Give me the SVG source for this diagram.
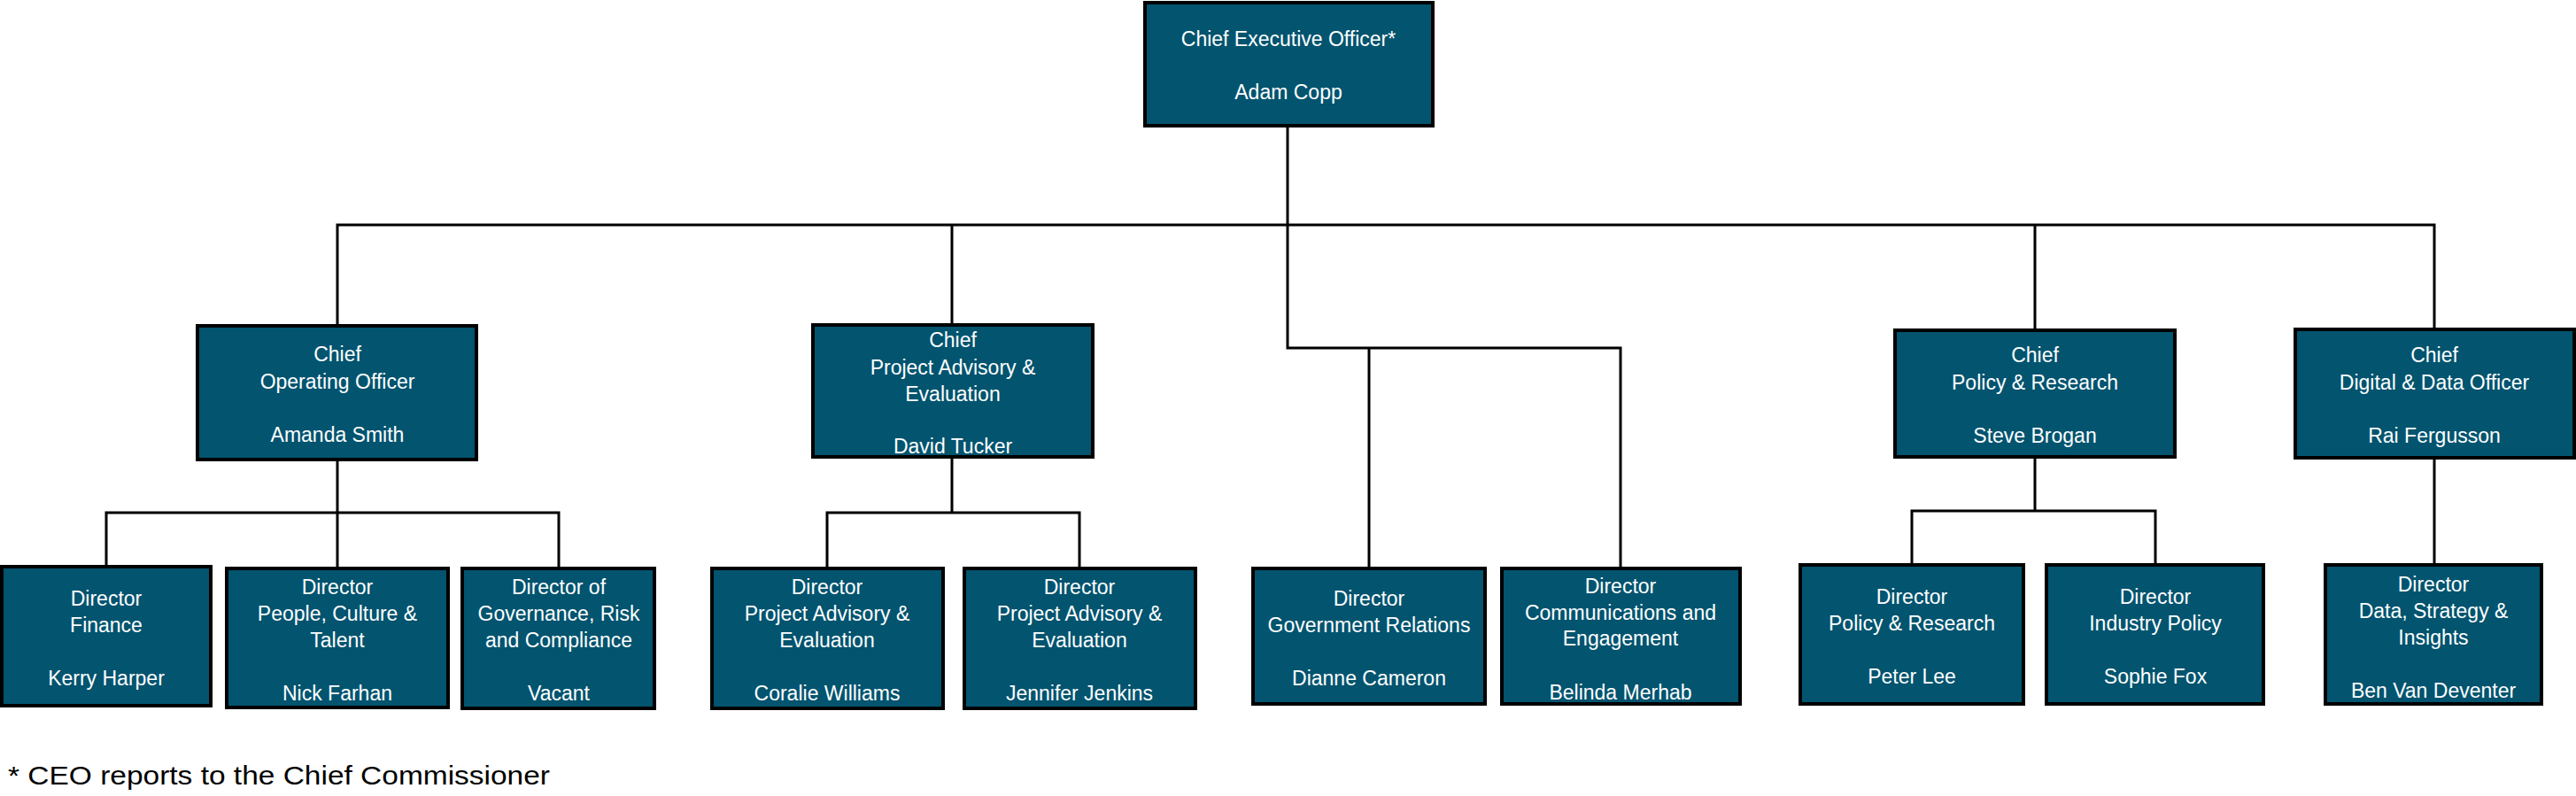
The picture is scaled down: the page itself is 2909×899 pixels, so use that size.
<svg xmlns="http://www.w3.org/2000/svg" width="2909" height="899" viewBox="0 0 2909 899">
<style>
.b{fill:#02546F;stroke:#000;stroke-width:4}
.t{fill:#fff;font-family:"Liberation Sans",Arial,sans-serif;font-size:23px;text-anchor:middle}
.c{fill:none;stroke:#000;stroke-width:3}
</style>
<rect width="2909" height="899" fill="#fff"/>
<g id="connectors" class="c">
<path d="M1454 141V254M381 368V254H2749V372M1075 254V367M2298 254V373"/>
<path d="M1454 254V393H1830V642M1546 393V642"/>
<path d="M381 519V579M120 640V579H631V642M381 579V642"/>
<path d="M1075 516V579M934 642V579H1219V642"/>
<path d="M2298 516V577M2159 638V577H2434V638"/>
<path d="M2749 517V638"/>
</g>
<g id="ceo"><rect class="b" x="1293" y="3" width="325" height="139"/><text class="t" x="1455" y="52">Chief Executive Officer*</text><text class="t" x="1455" y="112">Adam Copp</text></g>
<g id="coo"><rect class="b" x="223" y="368" width="315" height="151"/><text class="t" x="381" y="408">Chief</text><text class="t" x="381" y="439">Operating Officer</text><text class="t" x="381" y="499">Amanda Smith</text></g>
<g id="cpae"><rect class="b" x="918" y="367" width="316" height="149"/><text class="t" x="1076" y="392">Chief</text><text class="t" x="1076" y="423">Project Advisory &amp;</text><text class="t" x="1076" y="453">Evaluation</text><text class="t" x="1076" y="512">David Tucker</text></g>
<g id="cpr"><rect class="b" x="2140" y="373" width="316" height="143"/><text class="t" x="2298" y="409">Chief</text><text class="t" x="2298" y="440">Policy &amp; Research</text><text class="t" x="2298" y="500">Steve Brogan</text></g>
<g id="cddo"><rect class="b" x="2592" y="372" width="315" height="145"/><text class="t" x="2749" y="409">Chief</text><text class="t" x="2749" y="440">Digital &amp; Data Officer</text><text class="t" x="2749" y="500">Rai Fergusson</text></g>
<g id="finance"><rect class="b" x="2" y="640" width="236" height="157"/><text class="t" x="120" y="684">Director</text><text class="t" x="120" y="714">Finance</text><text class="t" x="120" y="774">Kerry Harper</text></g>
<g id="people"><rect class="b" x="256" y="642" width="250" height="157"/><text class="t" x="381" y="671">Director</text><text class="t" x="381" y="701">People, Culture &amp;</text><text class="t" x="381" y="731">Talent</text><text class="t" x="381" y="791">Nick Farhan</text></g>
<g id="gov"><rect class="b" x="522" y="642" width="217" height="158"/><text class="t" x="631" y="671">Director of</text><text class="t" x="631" y="701">Governance, Risk</text><text class="t" x="631" y="731">and Compliance</text><text class="t" x="631" y="791">Vacant</text></g>
<g id="coralie"><rect class="b" x="804" y="642" width="261" height="158"/><text class="t" x="934" y="671">Director</text><text class="t" x="934" y="701">Project Advisory &amp;</text><text class="t" x="934" y="731">Evaluation</text><text class="t" x="934" y="791">Coralie Williams</text></g>
<g id="jennifer"><rect class="b" x="1089" y="642" width="261" height="158"/><text class="t" x="1219" y="671">Director</text><text class="t" x="1219" y="701">Project Advisory &amp;</text><text class="t" x="1219" y="731">Evaluation</text><text class="t" x="1219" y="791">Jennifer Jenkins</text></g>
<g id="dianne"><rect class="b" x="1415" y="642" width="262" height="153"/><text class="t" x="1546" y="684">Director</text><text class="t" x="1546" y="714">Government Relations</text><text class="t" x="1546" y="774">Dianne Cameron</text></g>
<g id="belinda"><rect class="b" x="1696" y="642" width="269" height="153"/><text class="t" x="1830" y="670">Director</text><text class="t" x="1830" y="700">Communications and</text><text class="t" x="1830" y="729">Engagement</text><text class="t" x="1830" y="790">Belinda Merhab</text></g>
<g id="peter"><rect class="b" x="2033" y="638" width="252" height="157"/><text class="t" x="2159" y="682">Director</text><text class="t" x="2159" y="712">Policy &amp; Research</text><text class="t" x="2159" y="772">Peter Lee</text></g>
<g id="sophie"><rect class="b" x="2311" y="638" width="245" height="157"/><text class="t" x="2434" y="682">Director</text><text class="t" x="2434" y="712">Industry Policy</text><text class="t" x="2434" y="772">Sophie Fox</text></g>
<g id="ben"><rect class="b" x="2626" y="638" width="244" height="157"/><text class="t" x="2748" y="668">Director</text><text class="t" x="2748" y="698">Data, Strategy &amp;</text><text class="t" x="2748" y="728">Insights</text><text class="t" x="2748" y="788">Ben Van Deventer</text></g>
<text x="9" y="886" font-family="'Liberation Sans',Arial,sans-serif" font-size="30" textLength="612" lengthAdjust="spacingAndGlyphs">* CEO reports to the Chief Commissioner</text>
</svg>
